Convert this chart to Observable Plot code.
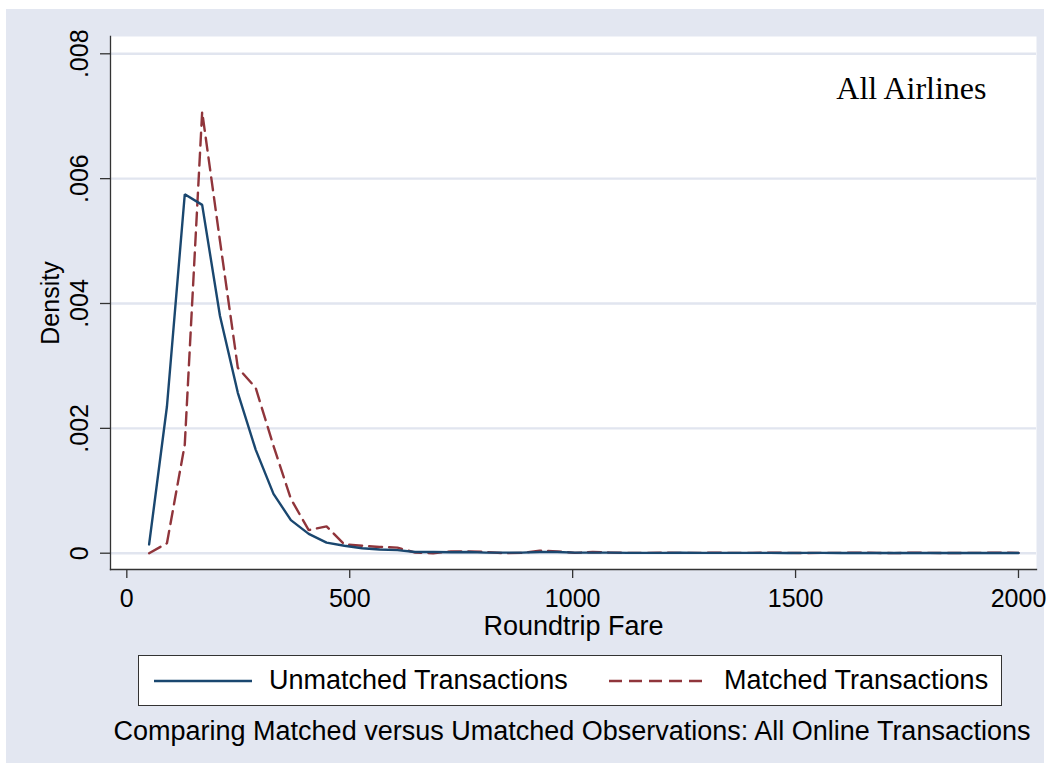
<!DOCTYPE html>
<html>
<head>
<meta charset="utf-8">
<script src="https://cdn.jsdelivr.net/npm/d3@7"></script>
<script src="https://cdn.jsdelivr.net/npm/@observablehq/plot@0.6"></script>
<style>
  html, body { margin: 0; padding: 0; background: #ffffff; }
  body { width: 1050px; height: 772px; position: relative; overflow: hidden; font-family: "Liberation Sans", Arial, sans-serif; }
  #region { position: absolute; left: 6px; top: 9px; width: 1038px; height: 754px; background: #E3E7F1; }
  #chart { position: absolute; left: 0; top: 0; }
  #chart svg { overflow: visible; }
  #legend { position: absolute; left: 132px; top: 646px; width: 864px; height: 51px; background: #fff; border: 1.5px solid #333; box-sizing: border-box; }
  #legend .txt { position: absolute; top: 0; line-height: 49px; font-size: 27px; color: #000; white-space: nowrap; }
  #legend svg { position: absolute; top: 0; }
  #caption { position: absolute; left: 0; width: 1132px; top: 706px; text-align: center; font-size: 27px; line-height: 32px; color: #000; white-space: nowrap; }
</style>
</head>
<body>
<div id="region">
  <div id="chart"></div>
  <div id="legend"></div>
  <div id="caption"></div>
</div>
<script>
// Evaluation points (Roundtrip Fare)
const fares = [50, 90, 130, 169, 209, 249, 289, 329, 368, 408, 448, 488, 528, 567, 607, 647, 687, 727, 766, 806,
  846, 886, 926, 965, 1005, 1045, 1085, 1124, 1164, 1204, 1244, 1284, 1323, 1363, 1403, 1443, 1483, 1522, 1562, 1602,
  1642, 1682, 1721, 1761, 1801, 1841, 1881, 1920, 1960, 2000];

// Density, unmatched transactions
const unmatched = [0.00014, 0.00235, 0.00575, 0.00558, 0.00380, 0.00257, 0.00166, 0.00095, 0.00053, 0.00031,
  0.00017, 0.00012, 0.00008, 0.00006, 0.00005, 0.00002, 0.00002, 0.000015, 0.00002, 0.00001,
  0.00001, 0.00001, 0.00002, 0.00002, 0.00001, 0.00001, 0.00001, 0.000005, 0.000005, 0.000005,
  0.000008, 0.000005, 0.000005, 0.000005, 0.000006, 0.000005, 0.000004, 0.000005, 0.000005, 0.000004,
  0.000005, 0.000004, 0.000004, 0.000004, 0.000004, 0.000003, 0.000003, 0.000003, 0.000003, 0.000003];

// Density, matched transactions
const matched = [0, 0.00016, 0.00174, 0.00707, 0.00500, 0.00297, 0.00265, 0.00172, 0.00087, 0.00037,
  0.00043, 0.00014, 0.00012, 0.00010, 0.00009, 0.00001, 0, 0.00003, 0.00003, 0.00002,
  0, 0.000005, 0.00004, 0.00003, 0.000005, 0.00002, 0.00001, 0.000005, 0.000005, 0.000008,
  0.000005, 0.000005, 0.000008, 0.000005, 0.000005, 0.000008, 0.000005, 0.000002, 0.000005, 0.000005,
  0.000008, 0.000005, 0.000002, 0.000008, 0.000005, 0.000003, 0.000005, 0.000005, 0.00001, 0.000005];

const xTicks = [0, 500, 1000, 1500, 2000];
const yTicks = [0, 0.002, 0.004, 0.006, 0.008];
const yTickLabels = ["0", ".002", ".004", ".006", ".008"];

const seriesNames = ["Unmatched Transactions", "Matched Transactions"];
const seriesColors = ["#1A476F", "#90353B"];
const xTitle = "Roundtrip Fare";
const yTitle = "Density";
const annotation = "All Airlines";
const caption = "Comparing Matched versus Umatched Observations: All Online Transactions";

const rowsU = fares.map((f, i) => ({fare: f, density: unmatched[i]}));
const rowsM = fares.map((f, i) => ({fare: f, density: matched[i]}));
const yTickRows = yTicks.map((v, i) => ({v, label: yTickLabels[i]}));

const font = "'Liberation Sans', Arial, sans-serif";
const gridColor = "#E1E5EF";
const axisColor = "#333333";

const plot = Plot.plot({
  width: 1038,
  height: 640,
  marginLeft: 104,
  marginRight: 8,
  marginTop: 27,
  marginBottom: 80,
  style: {background: "transparent", fontFamily: font, color: "#000", overflow: "visible"},
  x: {domain: [-36.6, 2040.4], axis: null},
  y: {domain: [-0.000261, 0.008277], axis: null},
  marks: [
    Plot.frame({fill: "#ffffff", stroke: null}),
    Plot.gridY(yTicks, {stroke: gridColor, strokeOpacity: 1, strokeWidth: 2.4}),
    Plot.axisX(xTicks, {tickSize: 9, tickPadding: 11, fontSize: 25, stroke: axisColor, strokeWidth: 1.3, label: null, tickFormat: d => String(d)}),
    Plot.axisY(yTicks, {tickSize: 10, stroke: axisColor, strokeWidth: 1.3, label: null, tickFormat: () => ""}),
    Plot.text(yTickRows, {y: "v", text: "label", frameAnchor: "left", dx: -31, rotate: -90, textAnchor: "middle", lineAnchor: "middle", fontSize: 25, fill: "#000"}),
    Plot.frame({anchor: "left", stroke: axisColor, strokeWidth: 1.3}),
    Plot.frame({anchor: "bottom", stroke: axisColor, strokeWidth: 1.3}),
    Plot.line(rowsM, {x: "fare", y: "density", stroke: seriesColors[1], strokeWidth: 2.4, strokeDasharray: "13,7", strokeLinejoin: "miter"}),
    Plot.line(rowsU, {x: "fare", y: "density", stroke: seriesColors[0], strokeWidth: 2.4, strokeLinejoin: "miter"}),
    Plot.text([annotation], {frameAnchor: "top-right", dx: -50, dy: 52, textAnchor: "end", lineAnchor: "middle", fontSize: 32, fontFamily: "'Liberation Serif', 'Times New Roman', serif", fill: "#000"}),
    Plot.text([xTitle], {frameAnchor: "bottom", dy: 57, textAnchor: "middle", lineAnchor: "middle", fontSize: 27, fill: "#000"}),
    Plot.text([yTitle], {frameAnchor: "left", dx: -60, rotate: -90, textAnchor: "middle", lineAnchor: "middle", fontSize: 25, fill: "#000"})
  ]
});
document.getElementById("chart").appendChild(plot);

// Legend
const legend = document.getElementById("legend");
const legendItems = [
  {sampleLeft: 15, textLeft: 130, dash: null},
  {sampleLeft: 470, textLeft: 585, dash: "13,7"}
];
legendItems.forEach((it, i) => {
  const svg = d3.create("svg").attr("width", 98).attr("height", 49).style("left", it.sampleLeft + "px");
  svg.append("line").attr("x1", 0).attr("x2", 98).attr("y1", 25).attr("y2", 25)
    .attr("stroke", seriesColors[i]).attr("stroke-width", 2.4)
    .attr("stroke-dasharray", it.dash);
  legend.appendChild(svg.node());
  const t = document.createElement("div");
  t.className = "txt";
  t.style.left = it.textLeft + "px";
  t.textContent = seriesNames[i];
  legend.appendChild(t);
});

document.getElementById("caption").textContent = caption;
</script>
</body>
</html>
